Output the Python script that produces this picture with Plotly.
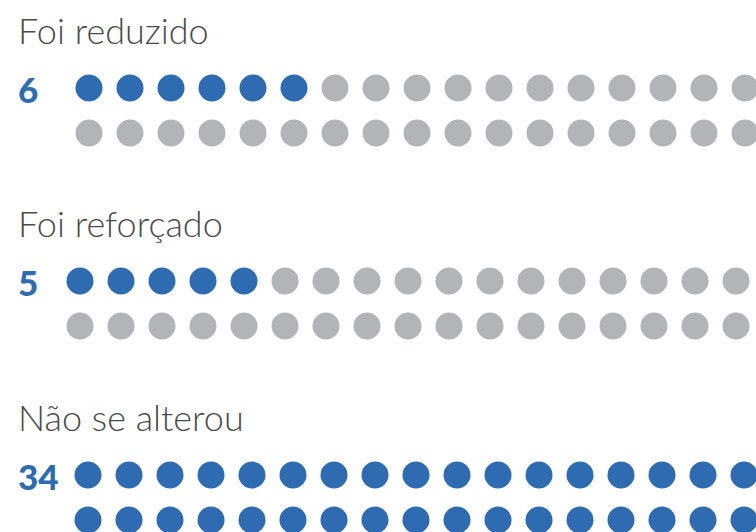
import plotly.graph_objects as go

# dados
categorias = ["Foi reduzido", "Foi reforçado", "Não se alterou"]
valores = [6, 5, 34]
pontos_por_linha = 17
linhas = 2

# layout (pixels)
W, H = 756, 532
topo_grupo = [88, 281, 475]
inicio_x = [89, 80, 88]
passo_x = 41
passo_y = 45
AZUL = "#2e6bb0"
CINZA = "#b3b4b8"

fig = go.Figure()

for i, (cat, val) in enumerate(zip(categorias, valores)):
    xs, ys, cores = [], [], []
    for r in range(linhas):
        for c in range(pontos_por_linha):
            k = r * pontos_por_linha + c
            xs.append(inicio_x[i] + c * passo_x)
            ys.append(topo_grupo[i] + r * passo_y)
            cores.append(AZUL if k < val else CINZA)
    fig.add_trace(go.Scatter(
        x=xs, y=ys, mode="markers",
        marker=dict(size=27, color=cores, line=dict(width=0)),
        hoverinfo="skip", showlegend=False,
    ))
    # titulo do grupo
    fig.add_annotation(
        x=16, y=topo_grupo[i] - 58, xref="x", yref="y",
        text=cat, showarrow=False, xanchor="left", yanchor="middle",
        font=dict(family="Lato", size=36, color="#4a4a4a", weight=300),
    )
    # numero
    fig.add_annotation(
        x=16, y=topo_grupo[i] + 1, xref="x", yref="y",
        text=str(val), showarrow=False, xanchor="left", yanchor="middle",
        font=dict(family="Lato", size=35, color=AZUL, weight=900),
    )

fig.update_layout(
    width=W, height=H,
    margin=dict(l=0, r=0, t=0, b=0),
    paper_bgcolor="white", plot_bgcolor="white",
    xaxis=dict(range=[0, W], visible=False, fixedrange=True),
    yaxis=dict(range=[H, 0], visible=False, fixedrange=True),
)

fig.write_html("out.html", config={"displayModeBar": False},
               post_script="document.body.style.margin='0';")
